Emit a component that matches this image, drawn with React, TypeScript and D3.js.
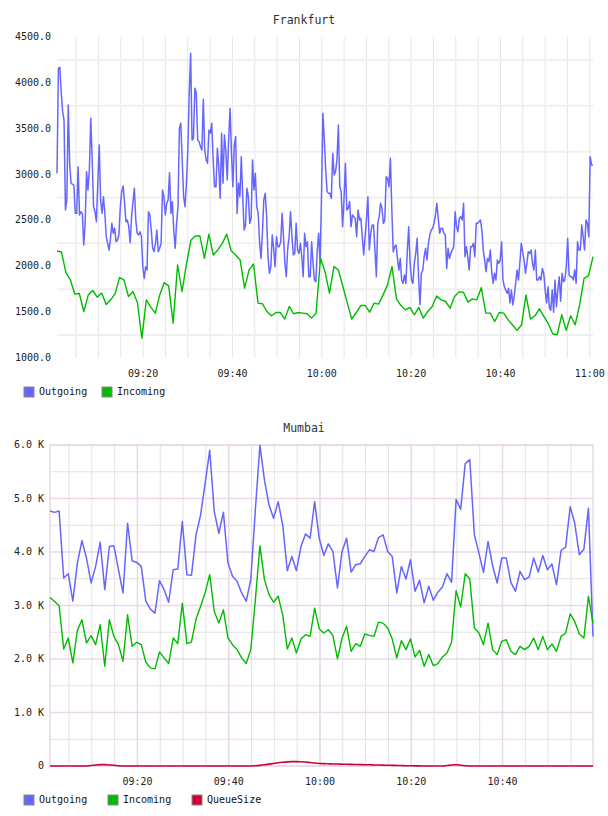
import React from 'react';
import * as d3 from 'd3';

const FONT = '"DejaVu Sans Mono", monospace';

// ---- Frankfurt ----
const fraOutgoing = [
  3014, 4159, 4170, 3900, 3686, 3595, 2614, 2723, 3759, 3123, 2905, 2895,
  2886, 2577, 2577, 3086, 2559, 2595, 2577, 2232, 2468, 3032,
  2832, 3050, 3614, 3159, 2650, 2595, 2486, 2905, 3323, 2723,
  2577, 2759, 2577, 2323, 2250, 2177, 2300, 2468, 2359, 2414, 2268,
  2286, 2341, 2650, 2814, 2875, 2700, 2486, 2505, 2432, 2257, 2541, 2700,
  2850, 2505, 2359, 2341, 2377, 2323, 1995, 1868, 1995, 1959,
  2595, 2559, 2395, 2196, 2159, 2250, 2395, 2159, 2196, 2250,
  2832, 2759, 2559, 2686, 2723, 3021, 2577, 2705, 2395, 2196,
  2468, 2650, 3505, 3559, 3159, 2759, 2650, 2905, 3268, 3886,
  4323, 3377,
  3395, 3941, 3886, 3377, 3359, 3305, 3268, 3821, 3268, 3159,
  3123, 3486, 3450, 3559, 3159, 2868, 2868, 3286, 3086, 2741,
  3450, 2905, 3432, 3268, 2941, 3377, 3723, 3250, 2868, 3323,
  3414, 2577, 2905, 2759, 3195, 2759, 2395, 2450, 2850, 2759,
  2468, 2523, 3159, 2832, 3014, 2650, 2577, 2268, 2086, 2359,
  2723, 2795, 2541, 2105, 1923, 1995, 2341, 2196, 1995, 2323,
  2214, 2214, 2268, 2577, 2323, 2032, 1886, 2196, 2323, 2595,
  2323, 2123, 2141, 2468, 2177, 2141, 2250, 2105, 1886, 2359,
  2214, 2268, 1886, 1886, 2268, 2032, 1850, 1832, 2177, 2359,
  2032, 2759, 3668, 3377, 3050, 2814, 2795,
  2795, 2741, 3232, 2995, 3032, 3159, 3541, 2868, 2814, 2432,
  2723, 3123, 2614, 2632, 2705, 2432, 2559, 2541, 2523, 2323,
  2614, 2505, 2523, 2323, 2123, 2323, 2523, 2759, 2177, 2359,
  2450, 2450, 2177, 1886, 2468, 2541, 2686, 2632, 2468, 2505,
  2977, 2959, 2868, 3177, 2614, 2159, 2214, 2232, 2086, 1959,
  2086, 1850, 1814, 1905, 1814, 2159, 2432, 2032, 1850, 1814,
  2032, 2141, 2305, 1886, 1580, 1923, 1959, 2105, 2196, 2068,
  2250, 2341, 2395, 2414, 2468, 2559, 2686, 2523, 2359, 2414,
  2414, 2359, 2341, 1977, 2196, 2086, 2141, 2177, 2214, 2595,
  2432, 2377, 2523, 2541, 2505,
  2686, 2105, 2214, 2105, 1959, 2214, 2214, 2250, 2105, 2468,
  2468, 2486, 2505, 2395, 2177, 2068, 1941, 2086, 2050, 2177,
  1941, 1814, 1923, 1850, 2068, 2032, 2068, 2268, 1850, 1777,
  1741, 1705, 1759, 1600, 1741, 1580, 1668, 1814, 1959, 1850,
  2032, 2250, 2159, 2068, 1923, 2032, 2159, 2141, 2177, 2032,
  1959, 2177, 1850, 1850, 1886, 1850, 1977, 1923, 1741, 1600,
  1777, 1550, 1520, 1741, 1500, 1850, 1560, 1741, 1886, 1620,
  1923, 1832, 1850, 1995, 2305, 1905, 1886, 1886, 1850, 1959,
  1814, 2268, 2177, 2177, 2450, 2323, 2177, 2505, 2468, 2323,
  3195, 3105, 3105,
];

const fraIncoming = [
  2167, 2156, 1931, 1851, 1696, 1703, 1507, 1688, 1736, 1663,
  1710, 1583, 1634, 1699, 1877, 1851, 1670, 1725, 1605, 1217,
  1634, 1554, 1489, 1688, 1822, 1786, 1380, 2014, 1725, 2033,
  2286, 2330, 2330, 2087, 2351, 2123, 2178, 2250, 2351, 2170,
  2123, 2069, 1761, 1960, 2025, 1598, 1591, 1507, 1460, 1496,
  1496, 1424, 1562, 1482, 1496, 1489, 1482,
  1435, 1489, 2087, 1942, 1707, 1996, 1960, 1779, 1598, 1424,
  1496, 1572, 1572, 1500, 1598, 1587, 1688, 1797, 1996, 1645,
  1572, 1525, 1551, 1471, 1551, 1435, 1507, 1562, 1677, 1634,
  1616, 1543, 1670, 1721, 1717, 1609, 1645, 1634, 1768, 1489,
  1489, 1398, 1496, 1489, 1416, 1360, 1301, 1359, 1688, 1424,
  1460, 1536, 1453, 1373, 1261, 1254, 1471, 1301, 1460, 1362,
  1580, 1869, 1898, 2105,
];

const fraYLabels = [1000, 1500, 2000, 2500, 3000, 3500, 4000, 4500];
const fraYGrid = [1250, 1750, 2250, 2750, 3250, 3750, 4250];

// ---- Mumbai ----
const mumOutgoing = [
  4766, 4741, 4766, 3514, 3594, 3080, 3793, 4214, 3886, 3421,
  3731, 4183, 3297, 4103, 4115, 3669, 3235, 4537, 3836, 3805,
  3731, 3080, 2932, 2857, 3464, 3297, 3061, 3669, 3681, 4568,
  3576, 3563, 4320, 4692, 5281, 5901, 4754, 4351, 4741, 3793,
  3545, 3452, 3235, 3080, 3483, 4785, 5994, 5343, 4878, 4630,
  4940, 4506, 3650, 3917, 3650, 4103, 4338, 4258,
  4940, 4258, 3935, 4152, 4010, 3328, 4010, 4258, 3625, 3762,
  3780, 3917, 4041, 4010, 4270, 4320, 4010, 3917, 3235, 3731,
  3495, 3855, 3266, 3470, 3049, 3359, 3099, 3247, 3346, 3594,
  3433, 4983, 4797, 5653, 5727, 4320, 3979, 3619, 4196, 3743,
  3421, 3886, 3886, 3433, 3266, 3638, 3483, 3532, 3886, 3625,
  3935, 3669, 3774, 3390, 4028, 4090, 4847, 4537, 3948, 4053,
  4816, 2420,
];

const mumIncoming = [
  3150, 3074, 2994, 2188, 2392, 1927, 2535, 2733, 2299, 2436,
  2268, 2640, 1865, 2733, 2423, 2268, 1958, 2826, 2237, 2312,
  2268, 1940, 1834, 1816, 2132, 2020, 1915, 2392, 2287, 3043,
  2287, 2318, 2746, 2981, 3240, 3576, 2888, 2671, 2919, 2392,
  2268, 2175, 2020, 1915, 2175, 3100, 4115, 3483, 3204, 3061,
  3173, 2826, 2188, 2392, 2113, 2374, 2454, 2423,
  2950, 2566, 2485, 2547, 2436, 2002, 2392, 2609, 2144, 2287,
  2237, 2467, 2442, 2423, 2690, 2671, 2578, 2374, 2020, 2343,
  2175, 2374, 2039, 2163, 1865, 2082, 1878, 1915, 2039, 2113,
  2312, 3278, 2974, 3594, 3495, 2578, 2485, 2268, 2671, 2175,
  2082, 2330, 2361, 2144, 2082, 2237, 2175, 2237, 2392, 2175,
  2423, 2175, 2281, 2144, 2423, 2485, 2845, 2702, 2467, 2392,
  3173, 2671,
];

const mumQueue = [
  0, 0, 0, 0, 0, 0, 0, 0, 0, 10,
  20, 25, 25, 20, 15, 5, 0, 0, 0, 0,
  0, 0, 0, 0, 0, 0, 0, 0, 0, 0,
  0, 0, 0, 0, 0, 0, 0, 0, 0, 0,
  0, 0, 0, 0, 0, 5, 12, 22, 35, 48,
  60, 70, 78, 82, 82, 80, 75, 65, 55, 48,
  44, 41, 38, 36, 34, 32, 30, 28, 26, 24,
  22, 20, 18, 16, 14, 12, 10, 8, 6, 5,
  3, 2, 0, 0, 0, 0, 0, 8, 18, 22,
  15, 6, 0, 0, 0, 0, 0, 0, 0, 0,
  0, 0, 0, 0, 0, 0, 0, 0, 0, 0,
  0, 0, 0, 0, 0, 0, 0, 0, 0, 0,
];

const mumYLabels = [0, 1000, 2000, 3000, 4000, 5000, 6000];
const mumYHalf = [500, 1500, 2500, 3500, 4500, 5500];

const COLORS = { out: '#6666ff', inc: '#00bb00', queue: '#cc0033' };

const day = (h: number, m: number, s: number) => new Date(2020, 0, 1, h, m, s);
const spread = (vals: number[], t0: Date, t1: Date) =>
  vals.map((v, i) => ({
    t: new Date(+t0 + (i * (+t1 - +t0)) / (vals.length - 1)),
    v,
  }));

const fmtTime = d3.timeFormat('%H:%M');

function Legend({ y, items }: { y: number; items: { label: string; color: string; x: number }[] }) {
  return (
    <g>
      {items.map((it) => (
        <g key={it.label}>
          <rect x={it.x} y={y - 5} width={10} height={10} fill={it.color} stroke="#888" strokeWidth={1} />
          <text x={it.x + 15} y={y} dominantBaseline="middle" fontSize={10} fontFamily={FONT} fill="#111">
            {it.label}
          </text>
        </g>
      ))}
    </g>
  );
}

function Frankfurt() {
  const t0 = day(9, 0, 43);
  const t1 = day(11, 0, 43);
  const x = d3.scaleTime().domain([t0, t1]).range([57, 593]);
  const y = d3.scaleLinear().domain([1000, 4500]).range([358, 37]);
  const out = spread(fraOutgoing, t0, t1);
  const inc = spread(fraIncoming, t0, t1);
  const line = d3
    .line<{ t: Date; v: number }>()
    .x((d) => x(d.t))
    .y((d) => y(d.v));
  const minor = x.ticks(d3.timeMinute.every(5) as d3.TimeInterval);
  const major = x.ticks(d3.timeMinute.every(20) as d3.TimeInterval);

  return (
    <g>
      <text x={304} y={20} textAnchor="middle" dominantBaseline="middle" fontSize={11.5} fontFamily={FONT} fill="#333">
        Frankfurt
      </text>
      {minor.map((t) => (
        <line key={+t} x1={x(t)} x2={x(t)} y1={37} y2={358} stroke="#e6e6e6" strokeWidth={1} />
      ))}
      {fraYGrid.map((v) => (
        <line key={v} x1={57} x2={593} y1={y(v)} y2={y(v)} stroke="#f0f0f0" strokeWidth={2} />
      ))}
      {fraYLabels.map((v) => (
        <text key={v} x={51} y={y(v)} textAnchor="end" dominantBaseline="middle" fontSize={10} fontFamily={FONT} fill="#222">
          {v.toFixed(1)}
        </text>
      ))}
      {major.map((t) => (
        <text key={+t} x={x(t)} y={374} textAnchor="middle" dominantBaseline="middle" fontSize={10} fontFamily={FONT} fill="#222">
          {fmtTime(t)}
        </text>
      ))}
      <path d={line(out) || ''} fill="none" stroke={COLORS.out} strokeWidth={1.5} strokeLinejoin="round" />
      <path d={line(inc) || ''} fill="none" stroke={COLORS.inc} strokeWidth={1.4} strokeLinejoin="round" />
      <Legend
        y={392}
        items={[
          { label: 'Outgoing', color: COLORS.out, x: 24 },
          { label: 'Incoming', color: COLORS.inc, x: 102 },
        ]}
      />
    </g>
  );
}

function Mumbai() {
  const t0 = day(9, 0, 50);
  const t1 = day(10, 59, 50);
  const x = d3.scaleTime().domain([t0, t1]).range([50, 593]);
  const y = d3.scaleLinear().domain([0, 6000]).range([766, 445]);
  const out = spread(mumOutgoing, t0, t1);
  const inc = spread(mumIncoming, t0, t1);
  const que = spread(mumQueue, t0, t1);
  const line = d3
    .line<{ t: Date; v: number }>()
    .x((d) => x(d.t))
    .y((d) => y(d.v));
  const smooth = d3
    .line<{ t: Date; v: number }>()
    .x((d) => x(d.t))
    .y((d) => y(d.v))
    .curve(d3.curveMonotoneX);
  const minor = x.ticks(d3.timeMinute.every(5) as d3.TimeInterval);
  const major = x.ticks(d3.timeMinute.every(20) as d3.TimeInterval);
  const pink = '#ead8ea';

  return (
    <g>
      <text x={304} y={428} textAnchor="middle" dominantBaseline="middle" fontSize={11.5} fontFamily={FONT} fill="#333">
        Mumbai
      </text>
      {mumYHalf.map((v) => (
        <line key={v} x1={50} x2={593} y1={y(v)} y2={y(v)} stroke="#e2e2e2" strokeWidth={1} />
      ))}
      {minor.map((t) => (
        <line key={+t} x1={x(t)} x2={x(t)} y1={445} y2={766} stroke="#e2e2e2" strokeWidth={1} />
      ))}
      {major.map((t) => (
        <line key={+t} x1={x(t)} x2={x(t)} y1={445} y2={766} stroke={pink} strokeWidth={1.5} />
      ))}
      {mumYLabels.map((v) => (
        <line key={v} x1={50} x2={593} y1={y(v)} y2={y(v)} stroke={pink} strokeWidth={1.3} />
      ))}
      <rect x={50} y={445} width={543} height={321} fill="none" stroke={pink} strokeWidth={1.5} />
      {mumYLabels.map((v) => (
        <text key={v} x={44} y={y(v)} textAnchor="end" dominantBaseline="middle" fontSize={10} fontFamily={FONT} fill="#222">
          {v === 0 ? '0' : `${(v / 1000).toFixed(1)} K`}
        </text>
      ))}
      {major.map((t) => (
        <text key={+t} x={x(t)} y={782} textAnchor="middle" dominantBaseline="middle" fontSize={10} fontFamily={FONT} fill="#222">
          {fmtTime(t)}
        </text>
      ))}
      <path d={line(out) || ''} fill="none" stroke={COLORS.out} strokeWidth={1.5} strokeLinejoin="round" />
      <path d={line(inc) || ''} fill="none" stroke={COLORS.inc} strokeWidth={1.4} strokeLinejoin="round" />
      <path d={smooth(que) || ''} fill="none" stroke={COLORS.queue} strokeWidth={1.6} />
      <Legend
        y={800}
        items={[
          { label: 'Outgoing', color: COLORS.out, x: 24 },
          { label: 'Incoming', color: COLORS.inc, x: 108 },
          { label: 'QueueSize', color: COLORS.queue, x: 192 },
        ]}
      />
    </g>
  );
}

export default function App() {
  return (
    <svg
      width={608}
      height={816}
      style={{ position: 'absolute', left: 0, top: 0, background: '#fff' }}
    >
      <Frankfurt />
      <Mumbai />
    </svg>
  );
}
